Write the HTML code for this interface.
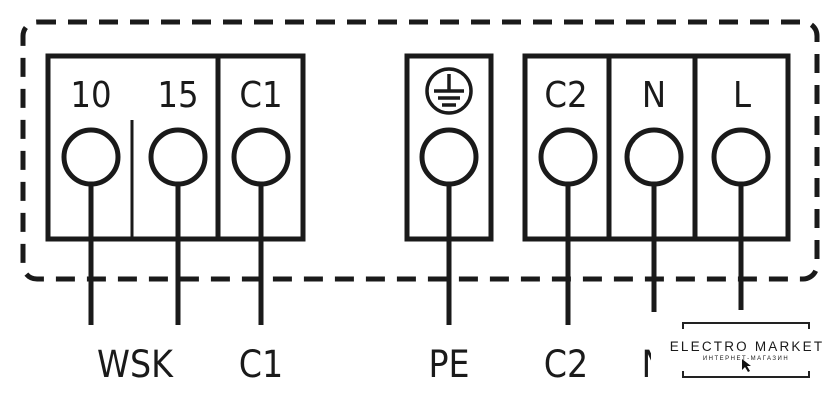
<!DOCTYPE html>
<html><head><meta charset="utf-8"><style>
html,body{margin:0;padding:0;background:#fff;width:840px;height:408px;overflow:hidden}
text{font-family:"DejaVu Sans Condensed","Liberation Sans",sans-serif;fill:#1a1a1a}
</style></head><body>
<svg width="840" height="408" viewBox="0 0 840 408" xmlns="http://www.w3.org/2000/svg">
<rect x="23" y="22" width="794" height="257" rx="14" fill="none" stroke="#1a1a1a" stroke-width="5" stroke-dasharray="19 12"/>
<g fill="none" stroke="#1a1a1a" stroke-width="5">
<rect x="48" y="56" width="255" height="183" fill="#fff"/>
<line x1="218" y1="56" x2="218" y2="239"/>
<line x1="132" y1="120" x2="132" y2="239" stroke-width="3"/>
<rect x="407" y="56" width="84" height="183" fill="#fff"/>
<rect x="525" y="56" width="263" height="183" fill="#fff"/>
<line x1="609" y1="56" x2="609" y2="239"/>
<line x1="695" y1="56" x2="695" y2="239"/>
<g>
<line x1="91" y1="185" x2="91" y2="325"/>
<line x1="178" y1="185" x2="178" y2="325"/>
<line x1="261" y1="185" x2="261" y2="325"/>
<line x1="449" y1="185" x2="449" y2="325"/>
<line x1="568" y1="185" x2="568" y2="325"/>
<line x1="654" y1="185" x2="654" y2="325"/>
<line x1="741" y1="185" x2="741" y2="310"/>
</g>
<circle cx="91" cy="157" r="27" fill="#fff"/>
<circle cx="178" cy="157" r="27" fill="#fff"/>
<circle cx="261" cy="157" r="27" fill="#fff"/>
<circle cx="449" cy="157" r="27" fill="#fff"/>
<circle cx="568" cy="157" r="27" fill="#fff"/>
<circle cx="654" cy="157" r="27" fill="#fff"/>
<circle cx="741" cy="157" r="27" fill="#fff"/>
<circle cx="449" cy="91" r="22" stroke-width="3.5"/>
<line x1="449" y1="74" x2="449" y2="91" stroke-width="3.5"/>
<line x1="434" y1="91" x2="464" y2="91" stroke-width="3.5"/>
<line x1="438" y1="98" x2="460" y2="98" stroke-width="3.5"/>
<line x1="442" y1="105" x2="456" y2="105" stroke-width="3.5"/>
</g>
<g font-size="36" text-anchor="middle">
<text x="91" y="107">10</text>
<text x="178" y="107">15</text>
<text x="261" y="107">C1</text>
<text x="566" y="107">C2</text>
<text x="654" y="107">N</text>
<text x="742" y="107">L</text>
</g>
<g font-size="37" text-anchor="middle">
<text x="135" y="377">WSK</text>
<text x="261" y="377">C1</text>
<text x="449" y="377">PE</text>
<text x="566" y="377">C2</text>
<text x="654" y="377">N</text>
</g>
<rect x="651" y="312" width="189" height="80" fill="#fff"/>
<g fill="none" stroke="#222" stroke-width="2">
<polyline points="683,329 683,323 809,323 809,329"/>
<polyline points="683,371 683,377 809,377 809,371"/>
</g>
<text x="747" y="351" font-size="13.5" text-anchor="middle" letter-spacing="2.2" style="font-family:'Liberation Sans',sans-serif">ELECTRO MARKET</text>
<text x="746" y="360" font-size="6" text-anchor="middle" letter-spacing="1.5" style="font-family:'Liberation Sans',sans-serif">ИНТЕРНЕТ-МАГАЗИН</text>
<path d="M742 359 L742 370 L745 367 L748 372 L750 371 L747 366 L751 366 Z" fill="#111"/>
</svg>
</body></html>
